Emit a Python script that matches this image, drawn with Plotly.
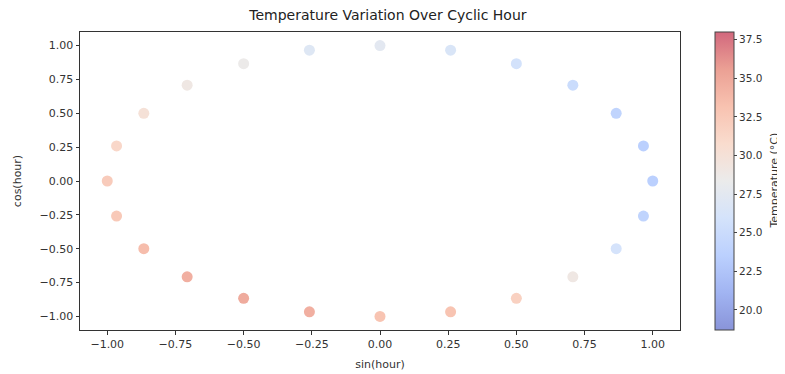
import numpy as np
import plotly.graph_objects as go

hours = list(range(24))
temps = [27.5, 26.5, 25.8, 25.0, 24.0, 23.5, 23.5, 24.0, 26.0, 29.0, 31.8, 33.0,
         33.0, 34.5, 34.8, 34.5, 33.5, 32.5, 32.3, 31.2, 30.0, 29.0, 28.5, 27.0]
cbar_ticks = [20.0, 22.5, 25.0, 27.5, 30.0, 32.5, 35.0, 37.5]
t_min, t_max = 18.7, 38.0

h = np.array(hours)
xs = np.sin(2 * np.pi * h / 24)
ys = np.cos(2 * np.pi * h / 24)

# matplotlib coolwarm, blended with white at alpha 0.6
cw = [(0.0, (59, 76, 192)), (0.125, (98, 130, 234)), (0.25, (141, 176, 254)),
      (0.375, (184, 208, 249)), (0.5, (221, 221, 221)), (0.625, (245, 196, 173)),
      (0.75, (244, 154, 123)), (0.875, (222, 96, 77)), (1.0, (180, 4, 38))]
alpha = 0.6
scale = []
for p, (r, g, b) in cw:
    r2, g2, b2 = [round(c * alpha + 255 * (1 - alpha)) for c in (r, g, b)]
    scale.append([p, f"rgb({r2},{g2},{b2})"])

fig = go.Figure()
fig.add_trace(go.Scatter(
    x=xs, y=ys, mode="markers",
    marker=dict(
        size=11, color=temps, colorscale=scale, cmin=t_min, cmax=t_max,
        line=dict(width=0),
        colorbar=dict(
            thickness=19, len=1.0, lenmode="fraction", y=0.5, yanchor="middle",
            x=1.058, xanchor="left", xpad=0, ypad=0,
            outlinewidth=1, outlinecolor="#444",
            tickvals=cbar_ticks, tickformat=".1f", ticks="outside", ticklen=3,
            tickfont=dict(size=10.5, color="#333"),
        ),
    ),
    showlegend=False,
))

axis_common = dict(
    showgrid=False, zeroline=False, showline=True, linecolor="#333", linewidth=1,
    mirror=True, ticks="outside", ticklen=3.5, tickcolor="#333",
    tickfont=dict(size=11, color="#333"), tickformat=".2f",
)
fig.update_layout(
    width=785, height=374,
    margin=dict(l=72, r=113, t=24, b=52, autoexpand=False),
    paper_bgcolor="white", plot_bgcolor="white",
    font=dict(family="DejaVu Sans", color="#333"),
    title=dict(text="Temperature Variation Over Cyclic Hour", x=0.484, xanchor="center",
               y=0.98, yanchor="middle", font=dict(size=14, color="#222")),
    xaxis=dict(range=[-1.1, 1.1], tickvals=[-1, -0.75, -0.5, -0.25, 0, 0.25, 0.5, 0.75, 1.0],
               title=dict(text="sin(hour)", font=dict(size=11), standoff=10), **axis_common),
    yaxis=dict(range=[-1.1, 1.1], tickvals=[-1, -0.75, -0.5, -0.25, 0, 0.25, 0.5, 0.75, 1.0],
               title=dict(text="cos(hour)", font=dict(size=11), standoff=15), **axis_common),
    annotations=[dict(text="Temperature (°C)", textangle=-90, xref="paper", yref="paper",
                      x=1.156, y=0.5, xanchor="center", yanchor="middle", showarrow=False,
                      font=dict(size=11, color="#333"))],
)
fig.write_html("out.html")
